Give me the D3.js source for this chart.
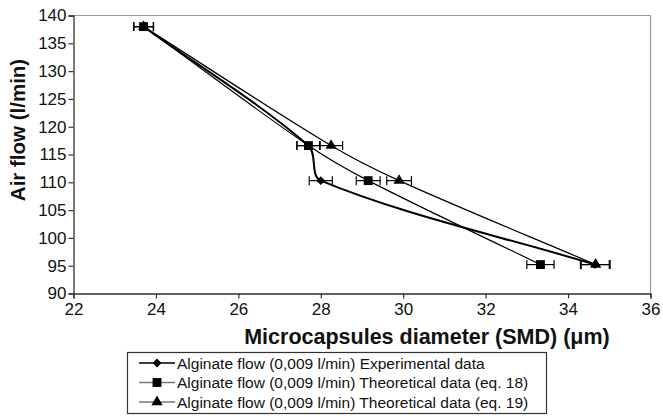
<!DOCTYPE html>
<html><head><meta charset="utf-8">
<script src="https://cdn.jsdelivr.net/npm/d3@7"></script>
<style>html,body{margin:0;padding:0;background:#fff;}svg{display:block;font-family:"Liberation Sans",Arial,sans-serif;}</style>
</head><body>
<svg id="c" width="663" height="416"></svg>
<script>
// Data
const airFlow = [138, 116.6, 110.3, 95.2];
const expDiameter = [23.7, 27.7, 28.0, 34.65];
const eq18Diameter = [23.7, 27.7, 29.15, 33.33];
const eq19Diameter = [23.7, 28.25, 29.9, 34.67];
const expError = [0.24, 0.28, 0.28, 0.35];
const eq18Error = [0.24, 0.28, 0.29, 0.33];
const eq19Error = [0.24, 0.28, 0.3, 0.35];
const seriesNames = [
  "Alginate flow (0,009 l/min) Experimental data",
  "Alginate flow (0,009 l/min) Theoretical data (eq. 18)",
  "Alginate flow (0,009 l/min) Theoretical data (eq. 19)"
];
const xTicks = [22, 24, 26, 28, 30, 32, 34, 36];
const yTicks = [90, 95, 100, 105, 110, 115, 120, 125, 130, 135, 140];

const svg = d3.select("#c");
const L = 73.5, R = 650.5, T = 15.5, B = 293.5;
const x = d3.scaleLinear().domain([22, 36]).range([L, R]);
const y = d3.scaleLinear().domain([90, 140]).range([B, T]);

// frame (top/right gray)
svg.append("line").attr("x1", L).attr("x2", R).attr("y1", T).attr("y2", T).attr("stroke", "#999").attr("stroke-width", 1.2);
svg.append("line").attr("x1", R).attr("x2", R).attr("y1", T).attr("y2", B).attr("stroke", "#999").attr("stroke-width", 1.2);

const xAxis = svg.append("g").attr("transform", `translate(0,${B})`)
  .call(d3.axisBottom(x).tickValues(xTicks).tickSize(5).tickPadding(4).tickFormat(d3.format("d")));
const yAxis = svg.append("g").attr("transform", `translate(${L},0)`)
  .call(d3.axisLeft(y).tickValues(yTicks).tickSize(5).tickPadding(2).tickFormat(d3.format("d")));
[xAxis, yAxis].forEach(g => {
  g.select(".domain").attr("stroke", "#333").attr("stroke-width", 1.3);
  g.selectAll(".tick line").attr("stroke", "#333").attr("stroke-width", 1.2);
  g.selectAll("text").attr("font-size", 17).attr("fill", "#111").attr("font-family", "Liberation Sans, Arial, sans-serif");
});

// axis titles
svg.append("text").attr("x", 427).attr("y", 344).attr("text-anchor", "middle")
  .attr("font-size", 21.5).attr("font-weight", "bold").attr("fill", "#111")
  .text("Microcapsules diameter (SMD) (μm)");
svg.append("text").attr("transform", "translate(25,130) rotate(-90)").attr("text-anchor", "middle")
  .attr("font-size", 20.5).attr("font-weight", "bold").attr("fill", "#111")
  .text("Air flow (l/min)");

// Excel-like smoothing: length-weighted Catmull-Rom bezier
function SmoothCurve(context) { this._context = context; }
SmoothCurve.prototype = {
  areaStart() {}, areaEnd() {},
  lineStart() { this._pts = []; },
  point(px, py) { this._pts.push([+px, +py]); },
  lineEnd() {
    const p = this._pts, n = p.length, c = this._context;
    if (!n) return;
    c.moveTo(p[0][0], p[0][1]);
    if (n === 1) return;
    const dist = (a, b) => Math.hypot(b[0] - a[0], b[1] - a[1]);
    const d = [];
    for (let i = 0; i < n - 1; i++) d.push(dist(p[i], p[i + 1]) || 1e-6);
    for (let i = 0; i < n - 1; i++) {
      const a = p[i], b = p[i + 1];
      let c1, c2;
      if (i === 0) c1 = [a[0] + (b[0] - a[0]) / 3, a[1] + (b[1] - a[1]) / 3];
      else {
        const f = d[i] / (d[i - 1] + d[i]) / 3 * 1.0;
        c1 = [a[0] + (b[0] - p[i - 1][0]) * f, a[1] + (b[1] - p[i - 1][1]) * f];
      }
      if (i === n - 2) c2 = [b[0] - (b[0] - a[0]) / 3, b[1] - (b[1] - a[1]) / 3];
      else {
        const f = d[i] / (d[i] + d[i + 1]) / 3 * 1.0;
        c2 = [b[0] - (p[i + 2][0] - a[0]) * f, b[1] - (p[i + 2][1] - a[1]) * f];
      }
      c.bezierCurveTo(c1[0], c1[1], c2[0], c2[1], b[0], b[1]);
    }
  }
};
const smoothCurve = ctx => new SmoothCurve(ctx);

const series = [
  {xs: expDiameter, err: expError, marker: "diamond", w: 2},
  {xs: eq18Diameter, err: eq18Error, marker: "square", w: 1.2},
  {xs: eq19Diameter, err: eq19Error, marker: "triangle", w: 1.2}
];
const line = d3.line().curve(smoothCurve).x(d => x(d[0])).y(d => y(d[1]));

function drawMarker(g, type, cx, cy) {
  let path;
  if (type === "diamond") path = d3.symbol().type(d3.symbolDiamond2).size(50)();
  else if (type === "square") path = d3.symbol().type(d3.symbolSquare2).size(100)();
  else path = d3.symbol().type(d3.symbolTriangle2).size(90)();
  g.append("path").attr("d", path).attr("transform", `translate(${cx},${cy})`).attr("fill", "#000").attr("stroke", "none");
}

series.forEach(s => {
  const pts = s.xs.map((d, i) => [d, airFlow[i]]);
  svg.append("path").attr("d", line(pts)).attr("fill", "none").attr("stroke", "#000").attr("stroke-width", s.w);
});
series.forEach(s => {
  const g = svg.append("g");
  s.xs.forEach((d, i) => {
    const cy = y(airFlow[i]);
    const x0 = x(d - s.err[i]), x1 = x(d + s.err[i]);
    g.append("line").attr("x1", x0).attr("x2", x1).attr("y1", cy).attr("y2", cy).attr("stroke", "#000").attr("stroke-width", 1.2);
    g.append("line").attr("x1", x0).attr("x2", x0).attr("y1", cy - 4.5).attr("y2", cy + 4.5).attr("stroke", "#000").attr("stroke-width", 1.2);
    g.append("line").attr("x1", x1).attr("x2", x1).attr("y1", cy - 4.5).attr("y2", cy + 4.5).attr("stroke", "#000").attr("stroke-width", 1.2);
    drawMarker(g, s.marker, x(d), cy);
  });
});

// legend
const lg = svg.append("g");
lg.append("rect").attr("x", 127.5).attr("y", 352.5).attr("width", 419).attr("height", 61).attr("fill", "#fff").attr("stroke", "#333").attr("stroke-width", 1.2);
const legendColors = ["#000", "#777", "#777"];
series.forEach((s, i) => {
  const cy = 363 + i * 19.5;
  lg.append("line").attr("x1", 139).attr("x2", 175).attr("y1", cy).attr("y2", cy).attr("stroke", legendColors[i]).attr("stroke-width", 1.3);
  drawMarker(lg, s.marker, 157, cy);
  lg.append("text").attr("x", 177).attr("y", cy + 5.5).attr("font-size", 15.5).attr("fill", "#111").text(seriesNames[i]);
});
</script>
</body></html>
